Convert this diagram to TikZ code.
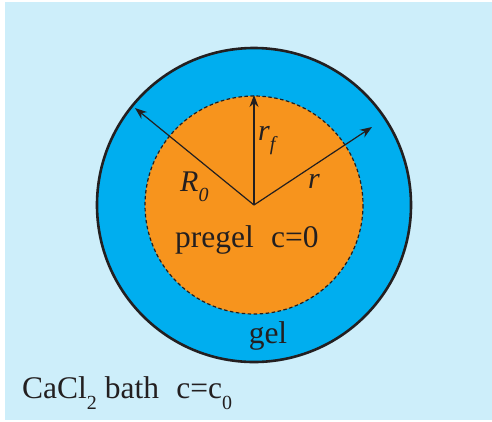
\documentclass[tikz,border=0pt]{standalone}
\usepackage{fontspec}
\setmainfont{Liberation Serif}
\usetikzlibrary{arrows.meta}
\definecolor{bathblue}{HTML}{CDEEFA}
\definecolor{gelblue}{HTML}{00AEEF}
\definecolor{pregelorange}{HTML}{F7941D}
\definecolor{inkdark}{HTML}{231F20}
\newcommand{\lowsub}[1]{\raisebox{-0.36em}{\fontsize{20}{21}\selectfont #1}}
\tikzset{
  radarrow/.style={draw=inkdark, line width=1.2pt, -{Stealth[length=12pt,width=9pt]}},
  bigtext/.style={text=inkdark, inner sep=0pt, font=\fontsize{31.5}{33}\selectfont},
  labtext/.style={text=inkdark, inner sep=0pt, font=\fontsize{30}{32}\selectfont\itshape},
}
\begin{document}
\begin{tikzpicture}[x=1pt,y=-1pt]
\useasboundingbox (0,0) rectangle (492,421);
\fill[bathblue] (5,2) rectangle (492,420);
\coordinate (c) at (254,205);
\draw[fill=gelblue, draw=inkdark, line width=2.6pt] (c) circle[radius=157];
\draw[fill=pregelorange, draw=inkdark, line width=1.2pt, dash pattern=on 3.5pt off 2.5pt] (c) circle[radius=109];
\coordinate (eR) at (135,108);
\coordinate (ef) at (254,95);
\coordinate (er) at (372,127);
\draw[radarrow] (c) -- (eR);
\draw[radarrow] (c) -- (ef);
\draw[radarrow] (c) -- (er);
\node[labtext, anchor=base west] (lR) at (180,191) {R\lowsub{0}};
\node[labtext, anchor=base west] (lf) at (258,140) {r\lowsub{f}};
\node[labtext, anchor=base west] (lr) at (308,188) {r};
\node[bigtext, anchor=base west] (pg) at (175,247) {pregel\hspace{0.55em}c=0};
\node[bigtext, anchor=base] (gel) at (268,343) {gel};
\node[bigtext, anchor=base west] (bath) at (22,398) {CaCl\lowsub{2} bath\hspace{0.55em}c=c\lowsub{0}};
\end{tikzpicture}
\end{document}
